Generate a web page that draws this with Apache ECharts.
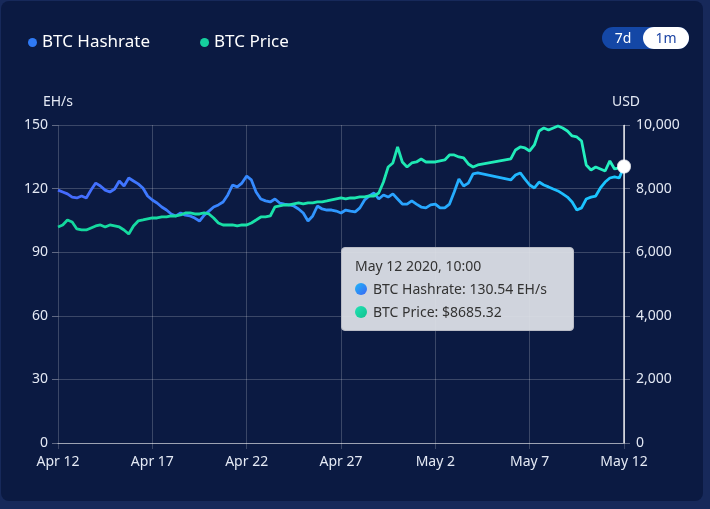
<!DOCTYPE html>
<html><head><meta charset="utf-8">
<script src="https://cdn.jsdelivr.net/npm/echarts@6/dist/echarts.min.js"></script>
<style>
html,body{margin:0;padding:0;width:710px;height:509px;overflow:hidden;background:#17295a;font-family:'Noto Sans',sans-serif}
#panel{position:absolute;left:1px;top:1px;width:702px;height:500px;background:#0b1a42;border-radius:8px}
#chart{position:absolute;left:0;top:0;width:710px;height:509px}
#btns{position:absolute;left:602px;top:27px;width:87px;height:22px;border-radius:11px;background:#1447a6;font-size:14px;line-height:22px}
#b7{position:absolute;left:0;top:0;width:42px;text-align:center;color:#fff}
#b1{position:absolute;left:41px;top:0;width:46px;height:22px;border-radius:11px;background:#fff;color:#1c44a4;text-align:center}
</style></head>
<body>
<div id="panel"></div>
<div id="chart"></div>
<div id="btns"><div id="b7">7d</div><div id="b1">1m</div></div>
<script>
const seriesNames = ['BTC Hashrate', 'BTC Price'];
const axisNames = ['EH/s', 'USD'];
const startTime = Date.UTC(2020, 3, 12, 10, 0);
const stepHours = 6;
const hashrate = [
119.3,118.4,117.5,116.0,115.6,116.5,115.6,119.3,122.6,121.2,
119.3,118.4,119.8,123.6,121.2,125.0,123.6,122.2,120.3,116.5,
114.6,113.2,111.3,109.9,108.0,107.1,108.5,107.5,107.1,106.1,
104.7,107.5,109.4,111.3,112.3,113.7,117.0,121.7,120.8,122.6,
125.9,124.1,118.4,115.1,114.2,113.7,115.1,113.2,112.7,112.3,
111.8,110.4,108.5,104.7,107.1,111.8,110.4,109.9,109.9,109.4,
108.5,109.9,109.4,109.0,110.9,114.6,116.5,117.9,115.1,117.0,
116.0,117.5,115.1,112.7,112.7,114.2,112.7,111.3,110.9,112.3,
112.7,110.9,110.9,112.7,118.4,124.5,121.2,122.6,126.9,127.4,
null,null,null,null,null,null,124.1,126.4,127.4,124.5,
121.7,120.3,123.1,121.7,120.8,119.8,118.9,117.5,116.0,113.7,
109.9,110.9,115.1,116.0,116.5,120.3,123.1,125.0,125.5,125.0,
130.54];
const price = [
6793,6856,7013,6950,6730,6699,6699,6762,6825,6856,
6793,6856,6825,6793,6699,6573,6825,6982,7013,7045,
7076,7076,7108,7108,7139,7139,7171,7234,7234,7202,
7202,7234,7202,7076,6919,6856,6856,6856,6825,6856,
6856,6919,7013,7108,7108,7139,7423,7454,7485,7485,
7517,7548,7517,7548,7548,7580,7580,7611,7643,7674,
7705,7674,7705,7705,7737,7737,7768,7768,7863,8208,
8680,8806,9309,8837,8680,8806,8837,8932,8837,8837,
8837,8869,8900,9058,9058,8994,8963,8775,8680,8743,
null,null,null,null,null,null,8932,9215,9309,9278,
9183,9372,9812,9907,9844,9907,9970,9907,9812,9655,
9624,9498,8743,8586,8680,8617,8554,8869,8617,8649,
8685.32];
const categories = hashrate.map((_, i) => startTime + i * stepHours * 3600000);
const MONTHS = ['Jan','Feb','Mar','Apr','May','Jun','Jul','Aug','Sep','Oct','Nov','Dec'];

function fmtLabel(v){ const d = new Date(+v); return MONTHS[d.getUTCMonth()] + ' ' + d.getUTCDate(); }
function fmtFull(v){ const d = new Date(+v); const hh = String(d.getUTCHours()).padStart(2,'0'); const mm = String(d.getUTCMinutes()).padStart(2,'0');
  return MONTHS[d.getUTCMonth()] + ' ' + d.getUTCDate() + ' ' + d.getUTCFullYear() + ', ' + hh + ':' + mm; }

const chart = echarts.init(document.getElementById('chart'), null, {renderer:'canvas'});
const G = echarts.graphic.LinearGradient;
const hashGrad = new G(0,0,1,0,[{offset:0,color:'#4060f4'},{offset:0.5,color:'#2a8cf2'},{offset:1,color:'#16b8f0'}]);
const priceGrad = new G(0,0,1,0,[{offset:0,color:'#12c48e'},{offset:1,color:'#22dcb0'}]);
const textColor = '#e4e9f4';
const gridColor = 'rgba(255,255,255,0.2)';

const mk = (a,b) => '<span style="display:inline-block;width:12px;height:12px;border-radius:50%;margin-right:6px;vertical-align:-1px;background:linear-gradient(135deg,'+a+','+b+')"></span>';

chart.setOption({
  animation: false,
  textStyle: {fontFamily: 'Noto Sans'},
  legend: {
    left: 28, top: 34, padding: 0, icon: 'circle', itemWidth: 9, itemHeight: 9, itemGap: 50,
    textStyle: {color: '#ffffff', fontSize: 17, fontFamily: 'Noto Sans'},
    data: [{name: seriesNames[0], itemStyle:{color:'#2f7af5'}}, {name: seriesNames[1], itemStyle:{color:'#15cf9e'}}]
  },
  grid: {left: 58, right: 86, top: 125, bottom: 66},
  tooltip: {
    trigger: 'axis', alwaysShowContent: true,
    position: function(){ return [341, 247]; },
    backgroundColor: 'rgba(221,224,231,0.94)', borderColor: '#b9bcc6', borderWidth: 1,
    padding: [6, 26, 7, 13],
    textStyle: {color:'#333', fontSize:14, fontFamily:'Noto Sans'},
    extraCssText: 'box-shadow:none;border-radius:4px;',
    axisPointer: {type:'line', lineStyle:{color:'rgba(255,255,255,0.85)', width:1.5, type:'solid'}},
    formatter: function(ps){
      let h = '<div style="line-height:23px;font-size:14px;color:#333">' + fmtFull(ps[0].axisValue);
      ps.forEach(p => {
        if (p.seriesIndex === 0) h += '<br>' + mk('#1fb6f6','#3b66f5') + p.seriesName + ': ' + (+p.value).toFixed(2) + ' EH/s';
        else h += '<br>' + mk('#22e2b6','#10c28e') + p.seriesName + ': $' + (+p.value).toFixed(2);
      });
      return h + '</div>';
    }
  },
  xAxis: {
    type: 'category', boundaryGap: false, data: categories,
    axisLine: {lineStyle: {color: 'rgba(255,255,255,0.5)'}},
    axisTick: {show: true, interval: 19, length: 6, lineStyle: {color: gridColor}},
    axisLabel: {interval: 19, color: textColor, fontSize: 14, margin: 12, formatter: fmtLabel},
    splitLine: {show: true, interval: 19, lineStyle: {color: gridColor}}
  },
  yAxis: [{
    type: 'value', min: 0, max: 150, interval: 30, name: axisNames[0], nameGap: 16,
    nameTextStyle: {color: textColor, fontSize: 14},
    axisLine: {show: false},
    axisTick: {show: true, length: 6, lineStyle: {color: 'rgba(255,255,255,0.35)'}},
    axisLabel: {color: textColor, fontSize: 14, margin: 10},
    splitLine: {lineStyle: {color: gridColor}}
  }, {
    type: 'value', min: 0, max: 10000, interval: 2000, name: axisNames[1], nameGap: 16,
    nameTextStyle: {color: textColor, fontSize: 14, padding: [0, 0, 0, 4]},
    axisLine: {show: true, lineStyle: {color: 'rgba(255,255,255,0.35)'}},
    axisTick: {show: true, length: 6, lineStyle: {color: 'rgba(255,255,255,0.35)'}},
    axisLabel: {color: textColor, fontSize: 14, margin: 12, formatter: v => v.toLocaleString('en-US')},
    splitLine: {show: false}
  }],
  series: [{
    name: seriesNames[0], type: 'line', yAxisIndex: 0, data: hashrate, connectNulls: true,
    showSymbol: false, symbol: 'circle', symbolSize: 12,
    lineStyle: {color: hashGrad, width: 2.8}, itemStyle: {color: '#2f7af5'},
    emphasis: {scale: false, lineStyle: {width: 2.8}, itemStyle: {color: '#fff', borderColor: 'rgba(255,255,255,0.6)', borderWidth: 2}}
  }, {
    name: seriesNames[1], type: 'line', yAxisIndex: 1, data: price, connectNulls: true,
    showSymbol: false, symbol: 'circle', symbolSize: 12,
    lineStyle: {color: priceGrad, width: 2.8}, itemStyle: {color: '#15cf9e'},
    emphasis: {scale: false, lineStyle: {width: 2.8}, itemStyle: {color: '#fff', borderColor: 'rgba(255,255,255,0.6)', borderWidth: 2}}
  }]
});
setTimeout(() => chart.dispatchAction({type: 'showTip', seriesIndex: 0, dataIndex: hashrate.length - 1}), 50);
</script>
</body></html>
